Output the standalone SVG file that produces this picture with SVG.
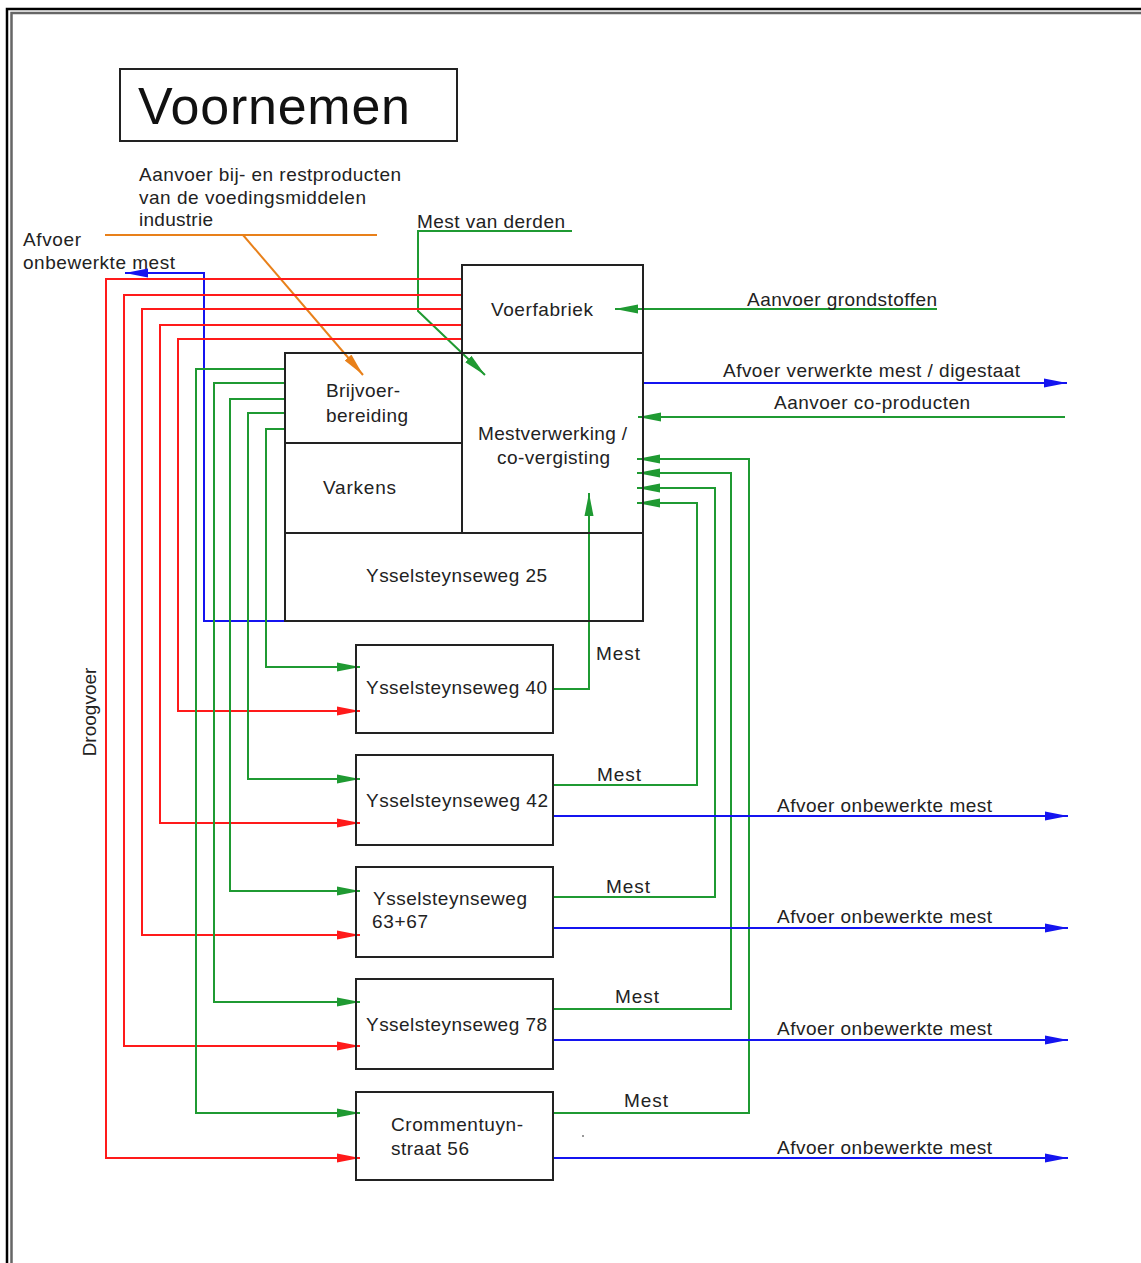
<svg xmlns="http://www.w3.org/2000/svg" width="1141" height="1263" viewBox="0 0 1141 1263">
<style>
.t{font-family:"Liberation Sans",Arial,sans-serif;font-size:19px;fill:#222}
.box{fill:none;stroke:#222;stroke-width:2}
.r{fill:none;stroke:#ff1a1a;stroke-width:2}
.g{fill:none;stroke:#1f9a32;stroke-width:2}
.b{fill:none;stroke:#1414f0;stroke-width:2}
.o{fill:none;stroke:#e8801a;stroke-width:2}
</style>
<defs>
<marker id="ar" markerWidth="24" markerHeight="10" refX="23" refY="5" orient="auto" markerUnits="userSpaceOnUse"><path d="M0,0.5 L23,5 L0,9.5 Z" fill="#ff1a1a"/></marker>
<marker id="ag" markerWidth="24" markerHeight="10" refX="23" refY="5" orient="auto" markerUnits="userSpaceOnUse"><path d="M0,0.5 L23,5 L0,9.5 Z" fill="#1f9a32"/></marker>
<marker id="ab" markerWidth="24" markerHeight="10" refX="23" refY="5" orient="auto" markerUnits="userSpaceOnUse"><path d="M0,0.5 L23,5 L0,9.5 Z" fill="#1414f0"/></marker>
<marker id="ao" markerWidth="24" markerHeight="10" refX="23" refY="5" orient="auto" markerUnits="userSpaceOnUse"><path d="M0,0.5 L23,5 L0,9.5 Z" fill="#e8801a"/></marker>
</defs>
<rect width="1141" height="1263" fill="#fff"/>
<g id="frame">
<rect x="7" y="9" width="1200" height="1300" fill="none" stroke="#000" stroke-width="2.5"/>
<rect x="11.5" y="13" width="1200" height="1300" fill="none" stroke="#666" stroke-width="2.5"/>
</g>
<g id="title">
<rect x="120" y="69" width="337" height="72" class="box"/>
<text x="138" y="124" font-family="'Liberation Sans',Arial,sans-serif" font-size="52" fill="#111" textLength="272">Voornemen</text>
</g>
<g id="connectors">
<!-- orange input -->
<line x1="105" y1="235" x2="377" y2="235" class="o"/>
<line x1="243" y1="235" x2="363" y2="375" class="o" marker-end="url(#ao)"/>
<!-- mest van derden -->
<polyline points="572,231 418,231 418,311 485,375" class="g" marker-end="url(#ag)"/>
<!-- aanvoer grondstoffen -->
<line x1="937" y1="309" x2="615" y2="309" class="g" marker-end="url(#ag)"/>
<!-- afvoer verwerkte mest -->
<line x1="643" y1="383" x2="1067" y2="383" class="b" marker-end="url(#ab)"/>
<!-- aanvoer co-producten -->
<line x1="1065" y1="417" x2="638" y2="417" class="g" marker-end="url(#ag)"/>
<!-- afvoer onbewerkte mest (top-left) -->
<polyline points="303,621 204,621 204,273 125,273" class="b" marker-end="url(#ab)"/>
<!-- red droogvoer lines -->
<polyline points="462,339 178,339 178,711 360,711" class="r" marker-end="url(#ar)"/>
<polyline points="462,325 160,325 160,823 360,823" class="r" marker-end="url(#ar)"/>
<polyline points="462,309 142,309 142,935 360,935" class="r" marker-end="url(#ar)"/>
<polyline points="462,295 124,295 124,1046 360,1046" class="r" marker-end="url(#ar)"/>
<polyline points="462,279 106,279 106,1158 360,1158" class="r" marker-end="url(#ar)"/>
<!-- green brijvoer lines -->
<polyline points="285,429 266,429 266,667 360,667" class="g" marker-end="url(#ag)"/>
<polyline points="285,413 248,413 248,779 360,779" class="g" marker-end="url(#ag)"/>
<polyline points="285,399 230,399 230,891 360,891" class="g" marker-end="url(#ag)"/>
<polyline points="285,383 214,383 214,1002 360,1002" class="g" marker-end="url(#ag)"/>
<polyline points="285,369 196,369 196,1113 360,1113" class="g" marker-end="url(#ag)"/>
<!-- mest to mestverwerking -->
<polyline points="553,689 589,689 589,493" class="g" marker-end="url(#ag)"/>
<polyline points="553,785 697,785 697,503 637,503" class="g" marker-end="url(#ag)"/>
<polyline points="553,897 715,897 715,488 637,488" class="g" marker-end="url(#ag)"/>
<polyline points="553,1009 731,1009 731,473 637,473" class="g" marker-end="url(#ag)"/>
<polyline points="553,1113 749,1113 749,459 637,459" class="g" marker-end="url(#ag)"/>
<!-- afvoer onbewerkte mest (right) -->
<line x1="553" y1="816" x2="1068" y2="816" class="b" marker-end="url(#ab)"/>
<line x1="553" y1="928" x2="1068" y2="928" class="b" marker-end="url(#ab)"/>
<line x1="553" y1="1040" x2="1068" y2="1040" class="b" marker-end="url(#ab)"/>
<line x1="553" y1="1158" x2="1068" y2="1158" class="b" marker-end="url(#ab)"/>
</g>
<g id="labels">
<text class="t" x="139" y="181" textLength="262">Aanvoer bij- en restproducten</text>
<text class="t" x="139" y="204" textLength="227">van de voedingsmiddelen</text>
<text class="t" x="139" y="226" textLength="74">industrie</text>
<text class="t" x="23" y="246" textLength="58">Afvoer</text>
<text class="t" x="23" y="269" textLength="152">onbewerkte mest</text>
<text class="t" x="417" y="228" textLength="148">Mest van derden</text>
<text class="t" x="747" y="306" textLength="190">Aanvoer grondstoffen</text>
<text class="t" x="723" y="377" textLength="297">Afvoer verwerkte mest / digestaat</text>
<text class="t" x="774" y="409" textLength="196">Aanvoer co-producten</text>
<text class="t" x="96" y="712" text-anchor="middle" transform="rotate(-90 96 712)">Droogvoer</text>
<text class="t" x="596" y="660" textLength="44">Mest</text>
<text class="t" x="597" y="781" textLength="44">Mest</text>
<text class="t" x="606" y="893" textLength="44">Mest</text>
<text class="t" x="615" y="1003" textLength="44">Mest</text>
<text class="t" x="624" y="1107" textLength="44">Mest</text>
<text class="t" x="777" y="812" textLength="215">Afvoer onbewerkte mest</text>
<text class="t" x="777" y="923" textLength="215">Afvoer onbewerkte mest</text>
<text class="t" x="777" y="1035" textLength="215">Afvoer onbewerkte mest</text>
<text class="t" x="777" y="1154" textLength="215">Afvoer onbewerkte mest</text>
<circle cx="583" cy="1136" r="1" fill="#777"/>
</g>
<g id="voerfabriek">
<rect x="462" y="265" width="181" height="88" class="box"/>
<text class="t" x="491" y="316" textLength="102">Voerfabriek</text>
</g>
<g id="brijvoer">
<rect x="285" y="353" width="177" height="90" class="box"/>
<text class="t" x="326" y="397" textLength="74">Brijvoer-</text>
<text class="t" x="326" y="422" textLength="82">bereiding</text>
</g>
<g id="varkens">
<rect x="285" y="443" width="177" height="90" class="box"/>
<text class="t" x="323" y="494" textLength="73">Varkens</text>
</g>
<g id="mestverwerking">
<rect x="462" y="353" width="181" height="180" class="box"/>
<text class="t" x="478" y="440" textLength="149">Mestverwerking /</text>
<text class="t" x="497" y="464" textLength="113">co-vergisting</text>
</g>
<g id="ysselsteynseweg25">
<rect x="285" y="533" width="358" height="88" class="box"/>
<text class="t" x="366" y="582" textLength="181">Ysselsteynseweg 25</text>
</g>
<g id="ysselsteynseweg40">
<rect x="356" y="645" width="197" height="88" class="box"/>
<text class="t" x="366" y="694" textLength="181">Ysselsteynseweg 40</text>
</g>
<g id="ysselsteynseweg42">
<rect x="356" y="755" width="197" height="90" class="box"/>
<text class="t" x="366" y="807" textLength="182">Ysselsteynseweg 42</text>
</g>
<g id="ysselsteynseweg6367">
<rect x="356" y="867" width="197" height="90" class="box"/>
<text class="t" x="373" y="905" textLength="154">Ysselsteynseweg</text>
<text class="t" x="372" y="928" textLength="56">63+67</text>
</g>
<g id="ysselsteynseweg78">
<rect x="356" y="979" width="197" height="90" class="box"/>
<text class="t" x="366" y="1031" textLength="181">Ysselsteynseweg 78</text>
</g>
<g id="crommentuynstraat56">
<rect x="356" y="1092" width="197" height="88" class="box"/>
<text class="t" x="391" y="1131" textLength="132">Crommentuyn-</text>
<text class="t" x="391" y="1155" textLength="78">straat 56</text>
</g>
</svg>
